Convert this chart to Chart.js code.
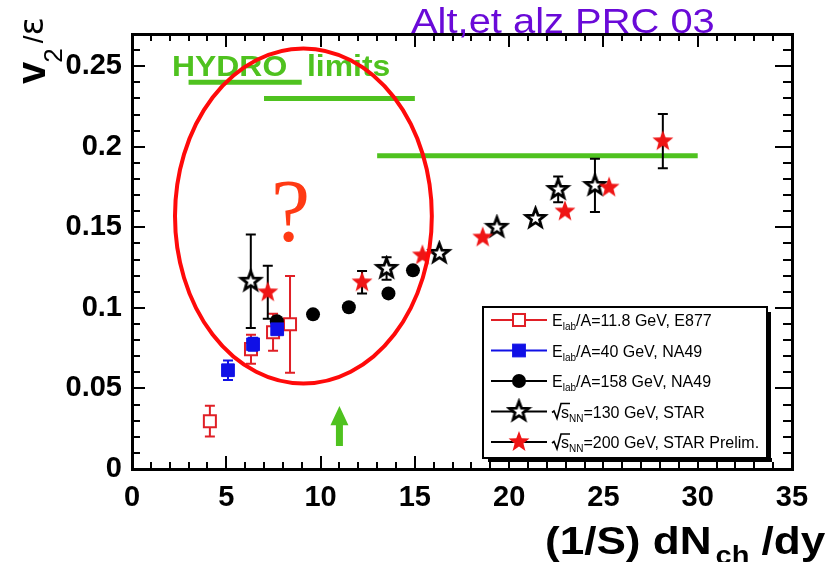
<!DOCTYPE html>
<html>
<head>
<meta charset="utf-8">
<script src="https://cdn.jsdelivr.net/npm/chart.js@4.4.1/dist/chart.umd.min.js"></script>
<style>
  html, body { margin: 0; padding: 0; background: #ffffff; }
  #wrap { width: 827px; height: 562px; position: relative; }
</style>
</head>
<body>
<div id="wrap"><canvas id="c" width="827" height="562"></canvas></div>
<script>
// ---- data: v2/eps versus (1/S) dNch/dy ----
// E877, Elab/A = 11.8 GeV
const e877X   = [4.13, 6.31, 7.48, 8.38];
const e877Y   = [0.0297, 0.0744, 0.0849, 0.0898];
const e877Err = [0.0095, 0.0090, 0.0115, 0.0300];

// NA49, Elab/A = 40 GeV
const na49LowX   = [5.09, 6.42, 7.70];
const na49LowY   = [0.0613, 0.0774, 0.0867];
const na49LowErr = [0.0060, 0.0040, 0.0000];

// NA49, Elab/A = 158 GeV
const na49HighX   = [7.68, 9.60, 11.50, 13.60, 14.90];
const na49HighY   = [0.0917, 0.0960, 0.1004, 0.1090, 0.1233];
const na49HighErr = [0, 0, 0, 0, 0];

// STAR, sqrt(sNN) = 130 GeV
const star130X   = [6.30, 13.50, 16.30, 19.35, 21.40, 22.60, 24.55];
const star130Y   = [0.1165, 0.1245, 0.1338, 0.1500, 0.1555, 0.1735, 0.1760];
const star130Err = [0.0290, 0.0070, 0, 0, 0, 0.0080, 0.0165];

// STAR preliminary, sqrt(sNN) = 200 GeV
const star200X   = [7.20, 12.20, 15.40, 18.60, 22.96, 25.30, 28.15];
const star200Y   = [0.1097, 0.1159, 0.1326, 0.1437, 0.1599, 0.1747, 0.2035];
const star200Err = [0.0164, 0.0070, 0, 0, 0, 0, 0.0168];

// hydrodynamic limits: horizontal segments
const hydroFrom  = [3.0, 7.0, 13.0];
const hydroTo    = [9.0, 15.0, 30.0];
const hydroLevel = [0.240, 0.230, 0.1945];

// axis tick labels
const xTickLabels = ['0', '5', '10', '15', '20', '25', '30', '35'];
const yTickLabels = ['0', '0.05', '0.1', '0.15', '0.2', '0.25'];

// annotations, in data units
const arrowAt = { x: 11.0, tip: 0.0391, headBase: 0.0272, tail: 0.0142 };
const ringAt  = { x: 9.09, y: 0.157, rx: 6.81, ry: 0.104 };

const GREEN = '#4fc21f';
const SANS = '"Liberation Sans", Arial, Helvetica, sans-serif';

function pts(xs, ys) { return xs.map((x, i) => ({ x: x, y: ys[i] })); }

function starPath(g, cx, cy, R, ratio) {
  g.beginPath();
  for (let k = 0; k < 10; k++) {
    const r = (k % 2) ? R * ratio : R;
    const a = -Math.PI / 2 + k * Math.PI / 5;
    g.lineTo(cx + r * Math.cos(a), cy + r * Math.sin(a));
  }
  g.closePath();
}
function makeStar(fill, stroke, lw, R, ratio) {
  const size = Math.ceil(R * 2 + lw + 4);
  const c = document.createElement('canvas');
  c.width = c.height = size;
  const g = c.getContext('2d');
  starPath(g, size / 2, size / 2, R, ratio);
  g.fillStyle = fill; g.fill();
  if (stroke) { g.lineWidth = lw; g.strokeStyle = stroke; g.lineJoin = 'miter'; g.stroke(); }
  return c;
}
const openStar = makeStar('#ffffff', '#000000', 2.8, 10, 0.42);
const redStar  = makeStar('#ef1515', null, 0, 11, 0.42);

// text drawn with a horizontal stretch factor
function wideText(ctx, str, x, y, sx) {
  ctx.save();
  ctx.translate(x, y);
  ctx.scale(sx, 1);
  ctx.fillText(str, 0, 0);
  const w = ctx.measureText(str).width * sx;
  ctx.restore();
  return w;
}

// vertical error bars, drawn just before each dataset's markers
const errorBars = {
  id: 'errorBars',
  beforeDatasetDraw(chart, args) {
    const ds = chart.data.datasets[args.index];
    if (!ds.yErr) return;
    const { ctx } = chart;
    const y = chart.scales.y;
    const meta = args.meta;
    ctx.save();
    ctx.strokeStyle = ds.errColor;
    ctx.lineWidth = 2;
    meta.data.forEach((el, i) => {
      const e = ds.yErr[i];
      if (!e) return;
      const v = ds.data[i].y;
      const top = y.getPixelForValue(v + e), bot = y.getPixelForValue(v - e);
      const px = el.x;
      ctx.beginPath();
      ctx.moveTo(px, top); ctx.lineTo(px, bot);
      ctx.moveTo(px - 5, top); ctx.lineTo(px + 5, top);
      ctx.moveTo(px - 5, bot); ctx.lineTo(px + 5, bot);
      ctx.stroke();
    });
    ctx.restore();
  }
};

// box frame with inward ticks on all four sides
const frame = {
  id: 'boxFrame',
  afterDraw(chart) {
    const ctx = chart.ctx;
    const a = chart.chartArea;
    const xs = chart.scales.x, ys = chart.scales.y;
    const L = Math.round(a.left), R = Math.round(a.right);
    const T = Math.round(a.top), B = Math.round(a.bottom);
    ctx.save();
    ctx.globalAlpha = 1;
    ctx.fillStyle = '#000000';
    for (let v = 0; v <= 35; v++) {
      const px = Math.round(xs.getPixelForValue(v));
      const len = (v % 5 === 0) ? 13 : 7;
      ctx.fillRect(px - 1, B - len, 2, len);
      ctx.fillRect(px - 1, T, 2, len);
    }
    for (let i = 0; i <= 27; i++) {
      const py = Math.round(ys.getPixelForValue(i / 100));
      const major = i % 5 === 0;
      const ll = major ? 13 : 8, lr = major ? 17 : 9;
      ctx.fillRect(L, py - 1, ll, 2);
      ctx.fillRect(R - lr, py - 1, lr, 2);
    }
    // frame edges
    ctx.fillRect(L - 1, T - 1, 3, B - T + 3);
    ctx.fillRect(R - 1, T - 1, 3, B - T + 3);
    ctx.fillRect(L - 1, T - 1, R - L + 3, 3);
    ctx.fillRect(L - 1, B - 1, R - L + 3, 3);
    ctx.restore();
  }
};

function drawRadical(ctx, x0, yMid, overWidth) {
  ctx.save();
  ctx.strokeStyle = '#000';
  ctx.lineWidth = 1.6;
  ctx.beginPath();
  ctx.moveTo(x0, yMid + 1);
  ctx.lineTo(x0 + 2, yMid - 0.5);
  ctx.lineTo(x0 + 5, yMid + 7);
  ctx.lineTo(x0 + 9, yMid - 8);
  ctx.lineTo(x0 + 9 + overWidth, yMid - 8);
  ctx.stroke();
  ctx.restore();
}

// annotations, titles and legend
const overlay = {
  id: 'overlay',
  afterDraw(chart) {
    const { ctx, scales: { x, y } } = chart;
    ctx.save();
    ctx.textBaseline = 'alphabetic';

    // "HYDRO limits" caption
    ctx.fillStyle = GREEN;
    ctx.font = 'bold 29px ' + SANS;
    wideText(ctx, 'HYDRO', 172, 76, 1.1);
    wideText(ctx, 'limits', 307, 76, 1.1);

    // arrow
    const ax = x.getPixelForValue(arrowAt.x);
    const yt = y.getPixelForValue(arrowAt.tip);
    const yh = y.getPixelForValue(arrowAt.headBase);
    const yb = y.getPixelForValue(arrowAt.tail);
    ctx.fillStyle = GREEN;
    ctx.beginPath();
    ctx.moveTo(ax, yt);
    ctx.lineTo(ax + 9, yh);
    ctx.lineTo(ax + 3.5, yh);
    ctx.lineTo(ax + 3.5, yb);
    ctx.lineTo(ax - 3.5, yb);
    ctx.lineTo(ax - 3.5, yh);
    ctx.lineTo(ax - 9, yh);
    ctx.closePath();
    ctx.fill();

    // question mark and ring
    ctx.fillStyle = '#ff3a14';
    ctx.font = '88px "Liberation Serif", "Times New Roman", serif';
    ctx.fillText('?', 271, 240);

    const cx = x.getPixelForValue(ringAt.x), cy = y.getPixelForValue(ringAt.y);
    const rx = x.getPixelForValue(ringAt.x + ringAt.rx) - cx;
    const ry = cy - y.getPixelForValue(ringAt.y + ringAt.ry);
    ctx.strokeStyle = '#ff0a0a';
    ctx.lineWidth = 4;
    ctx.beginPath();
    ctx.ellipse(cx, cy, rx, ry, 0, 0, Math.PI * 2);
    ctx.stroke();

    // reference note
    ctx.fillStyle = '#6a0ad8';
    ctx.font = '35px ' + SANS;
    wideText(ctx, 'Alt,et alz PRC 03', 411, 33, 1.14);

    // y title: v_2 / epsilon, rotated
    ctx.save();
    ctx.translate(45, 84);
    ctx.rotate(-Math.PI / 2);
    ctx.fillStyle = '#000';
    ctx.font = 'bold 40px ' + SANS;
    ctx.fillText('v', 0, 0);
    let w = ctx.measureText('v').width;
    ctx.font = '26px ' + SANS;
    ctx.fillText('2', w - 1, 17);
    w += ctx.measureText('2').width + 4;
    ctx.font = '28px ' + SANS;
    ctx.fillText('/', w, -2);
    w += ctx.measureText('/').width;
    ctx.font = '34px "DejaVu Sans", ' + SANS;
    ctx.fillText('\u03B5', w, -2);
    ctx.restore();

    // x title: (1/S) dN_ch /dy
    ctx.fillStyle = '#000';
    let tx = 545;
    ctx.font = 'bold 38px ' + SANS;
    tx += wideText(ctx, '(1/S) dN', tx, 554, 1.16) + 4;
    ctx.font = 'bold 25px ' + SANS;
    tx += wideText(ctx, 'ch', tx, 564, 1.16);
    ctx.font = 'bold 38px ' + SANS;
    wideText(ctx, ' /dy', tx, 554, 1.16);

    // legend box with drop shadow
    const L = 483, T = 307, R = 767, B = 458;
    ctx.fillStyle = '#000';
    ctx.fillRect(L + 5, B, R - L, 4);
    ctx.fillRect(R, T + 5, 4, B - T - 1);
    ctx.fillStyle = '#fff';
    ctx.fillRect(L, T, R - L, B - T);
    ctx.strokeStyle = '#000';
    ctx.lineWidth = 2;
    ctx.strokeRect(L, T, R - L, B - T);

    const rowY = [320, 350.5, 381, 411.5, 442];
    const entries = chart.data.datasets.filter(d => d.legendParts);
    entries.forEach((ds, k) => {
      const yy = rowY[k];
      ctx.strokeStyle = ds.lineColor;
      ctx.lineWidth = 2;
      ctx.beginPath(); ctx.moveTo(491, yy); ctx.lineTo(547, yy); ctx.stroke();
      const mx = 519;
      if (ds.pointStyle === 'rect') {
        const s = ds.pointRadius * Math.SQRT1_2;
        ctx.fillStyle = ds.backgroundColor;
        ctx.fillRect(mx - s, yy - s, 2 * s, 2 * s);
        ctx.strokeStyle = ds.borderColor;
        ctx.lineWidth = ds.borderWidth;
        ctx.strokeRect(mx - s, yy - s, 2 * s, 2 * s);
      } else if (ds.pointStyle === 'circle') {
        ctx.fillStyle = ds.backgroundColor;
        ctx.beginPath(); ctx.arc(mx, yy, ds.pointRadius, 0, Math.PI * 2); ctx.fill();
      } else {
        const img = ds.pointStyle;
        ctx.drawImage(img, mx - img.width / 2, yy - img.height / 2);
      }
      // label text with subscripts
      ctx.fillStyle = '#000';
      let lx = 552;
      const base = yy + 6;
      ds.legendParts.forEach(p => {
        if (p.radical) {
          ctx.font = '16px ' + SANS;
          const sw = ctx.measureText(p.radical).width;
          drawRadical(ctx, lx, yy, sw + 1);
          lx += 9;
          ctx.fillText(p.radical, lx, base);
          lx += sw;
        } else if (p.sub) {
          ctx.font = '10px ' + SANS;
          ctx.fillText(p.sub, lx, base + 4);
          lx += ctx.measureText(p.sub).width;
        } else {
          ctx.font = '16px ' + SANS;
          ctx.fillText(p.text, lx, base);
          lx += ctx.measureText(p.text).width;
        }
      });
    });

    ctx.restore();
  }
};

const tickFont = { family: SANS, weight: 'bold', size: 29 };

const hydroSets = hydroLevel.map((lv, i) => ({
  type: 'line',
  data: [{ x: hydroFrom[i], y: lv }, { x: hydroTo[i], y: lv }],
  borderColor: GREEN,
  borderWidth: 5,
  borderCapStyle: 'butt',
  pointRadius: 0,
  fill: false,
  order: 10
}));

new Chart(document.getElementById('c'), {
  type: 'scatter',
  data: {
    datasets: [
      {
        label: 'E877',
        data: pts(e877X, e877Y), yErr: e877Err, errColor: '#e01f26',
        pointStyle: 'rect', pointRadius: 8.5, backgroundColor: '#ffffff',
        borderColor: '#e01f26', borderWidth: 2, lineColor: '#e01f26',
        legendParts: [{ text: 'E' }, { sub: 'lab' }, { text: '/A=11.8 GeV, E877' }],
        order: 5
      },
      {
        label: 'NA49 40',
        data: pts(na49LowX, na49LowY), yErr: na49LowErr, errColor: '#1010e6',
        pointStyle: 'rect', pointRadius: 9, backgroundColor: '#1010e6',
        borderColor: '#1010e6', borderWidth: 1, lineColor: '#1010e6',
        legendParts: [{ text: 'E' }, { sub: 'lab' }, { text: '/A=40 GeV, NA49' }],
        order: 1
      },
      {
        label: 'NA49 158',
        data: pts(na49HighX, na49HighY), yErr: na49HighErr, errColor: '#000000',
        pointStyle: 'circle', pointRadius: 7, backgroundColor: '#000000',
        borderColor: '#000000', borderWidth: 0, lineColor: '#000000',
        legendParts: [{ text: 'E' }, { sub: 'lab' }, { text: '/A=158 GeV, NA49' }],
        order: 4
      },
      {
        label: 'STAR 130',
        data: pts(star130X, star130Y), yErr: star130Err, errColor: '#000000',
        pointStyle: openStar, pointRadius: 9, lineColor: '#000000',
        legendParts: [{ radical: 's' }, { sub: 'NN' }, { text: '=130 GeV, STAR' }],
        order: 3
      },
      {
        label: 'STAR 200',
        data: pts(star200X, star200Y), yErr: star200Err, errColor: '#000000',
        pointStyle: redStar, pointRadius: 9, lineColor: '#000000',
        legendParts: [{ radical: 's' }, { sub: 'NN' }, { text: '=200 GeV, STAR Prelim.' }],
        order: 2
      },
      ...hydroSets
    ]
  },
  options: {
    responsive: false,
    animation: false,
    devicePixelRatio: 1,
    layout: { padding: { left: 0, top: 34, right: 35, bottom: 0 } },
    plugins: { legend: { display: false }, tooltip: { enabled: false } },
    scales: {
      x: {
        type: 'linear', min: 0, max: 35,
        grid: { display: false, drawTicks: false },
        border: { display: false },
        ticks: {
          stepSize: 5, padding: 12, autoSkip: false, maxRotation: 0,
          color: '#000', font: tickFont,
          callback: (v, i) => xTickLabels[i]
        },
        afterFit(s) { s.height = 93; }
      },
      y: {
        type: 'linear', min: 0, max: 0.27,
        grid: { display: false, drawTicks: false },
        border: { display: false },
        ticks: {
          stepSize: 0.05, includeBounds: false, padding: 10, autoSkip: false,
          color: '#000', font: tickFont,
          callback: (v, i) => yTickLabels[i]
        },
        afterFit(s) { s.width = 132; }
      }
    }
  },
  plugins: [errorBars, frame, overlay]
});
</script>
</body>
</html>
